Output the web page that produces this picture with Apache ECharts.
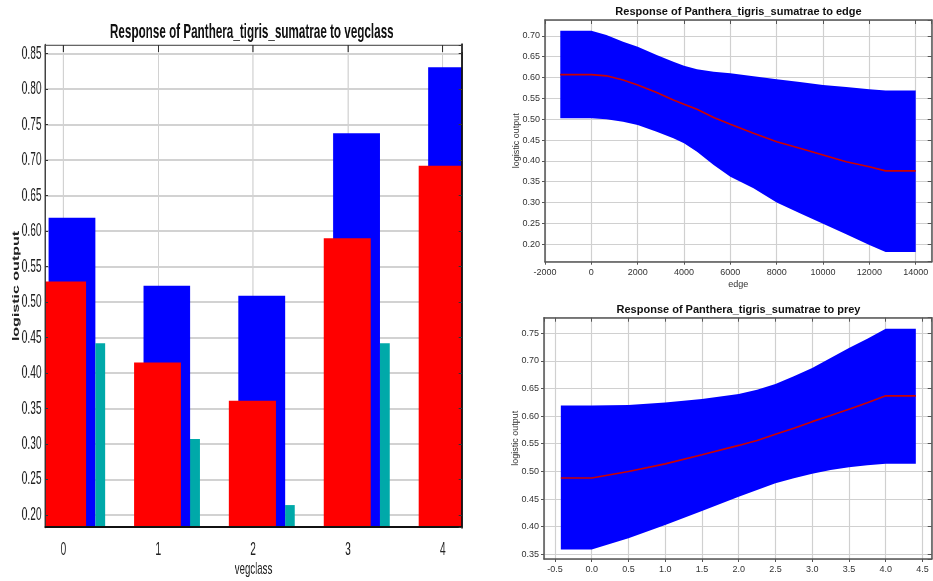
<!DOCTYPE html>
<html>
<head>
<meta charset="utf-8">
<script src="https://cdn.jsdelivr.net/npm/echarts@6/dist/echarts.min.js"></script>
<style>
  html, body { margin: 0; padding: 0; background: #fff; }
  #stage { position: relative; width: 933px; height: 581px; overflow: hidden; background: #fff; }
  /* the vegclass panel is laid out wide and squeezed horizontally */
  #veg { position: absolute; left: 0; top: 0; width: 825px; height: 581px;
         transform: scaleX(0.569697); transform-origin: 0 0; }
  #curves { position: absolute; left: 470px; top: 0; width: 463px; height: 581px; }
</style>
</head>
<body>
<div id="stage">
  <div id="curves"></div>
  <div id="veg"></div>
</div>
<script>
// ---- vegclass (categorical response) ----
const vegCategories = [0, 1, 2, 3, 4];
const vegUpper = [0.619, 0.523, 0.509, 0.738, 0.831];   // blue bars
const vegMean  = [0.529, 0.415, 0.361, 0.590, 0.692];   // red bars
const vegLower = [0.442, 0.307, 0.214, 0.442, null];    // teal bars

// ---- edge (continuous response) ----
const edgeX     = [-1340, 0, 650, 1370, 2000, 2820, 3540, 4000, 4560, 5280, 6000, 7000, 8000, 9000, 10000, 11000, 12000, 12700, 14000];
const edgeUpper = [0.712, 0.712, 0.702, 0.686, 0.674, 0.654, 0.638, 0.628, 0.620, 0.614, 0.610, 0.603, 0.596, 0.589, 0.582, 0.577, 0.572, 0.569, 0.569];
const edgeMean  = [0.607, 0.607, 0.604, 0.594, 0.582, 0.564, 0.546, 0.536, 0.524, 0.504, 0.488, 0.466, 0.446, 0.430, 0.414, 0.398, 0.386, 0.376, 0.376];
const edgeLower = [0.502, 0.502, 0.500, 0.494, 0.486, 0.470, 0.454, 0.442, 0.422, 0.390, 0.362, 0.334, 0.300, 0.274, 0.249, 0.224, 0.198, 0.181, 0.181];

// ---- prey (continuous response) ----
const preyX     = [-0.42, 0, 0.5, 1.0, 1.5, 2.0, 2.25, 2.5, 2.75, 3.0, 3.25, 3.5, 3.75, 4.0, 4.41];
const preyUpper = [0.619, 0.619, 0.620, 0.6245, 0.631, 0.640, 0.6475, 0.658, 0.672, 0.687, 0.705, 0.723, 0.740, 0.758, 0.758];
const preyMean  = [0.488, 0.488, 0.4997, 0.5136, 0.530, 0.547, 0.556, 0.567, 0.578, 0.590, 0.601, 0.6125, 0.624, 0.6366, 0.6366];
const preyLower = [0.3586, 0.3586, 0.379, 0.403, 0.4285, 0.454, 0.4665, 0.4786, 0.4876, 0.4955, 0.5027, 0.5075, 0.5112, 0.5136, 0.5136];

// axis extents and tick steps
const VEG_X_RANGE = [-0.193, 4.203], VEG_X_STEP = 1;
const VEG_Y_RANGE = [0.1831, 0.8623], VEG_Y_STEP = 0.05;
const EDGE_X_RANGE = [-2000, 14690], EDGE_X_STEP = 2000;
const EDGE_Y_RANGE = [0.158, 0.738], EDGE_Y_STEP = 0.05;
const PREY_X_RANGE = [-0.649, 4.626], PREY_X_STEP = 0.5;
const PREY_Y_RANGE = [0.3415, 0.778], PREY_Y_STEP = 0.05;

const FONT = 'Liberation Sans, Arial, Helvetica, sans-serif';

function valueAxis(range, step, extra) {
  return Object.assign({
    type: 'value', min: range[0], max: range[1],
    minInterval: step, maxInterval: step,
    splitNumber: Math.round((range[1] - range[0]) / step)
  }, extra);
}
// an axis that only carries the grid lines (kept beneath the marks)
function gridLinesAxis(range, step, pos, gridIndex, color, width) {
  return valueAxis(range, step, {
    gridIndex, position: pos, z: 0,
    axisLine: { show: false }, axisTick: { show: false }, axisLabel: { show: false },
    splitLine: { show: true, lineStyle: { color, width } }
  });
}
// a frame side with ticks, drawn above the marks
function frameAxis(range, step, pos, gridIndex, line, tick, label, name) {
  const ax = valueAxis(range, step, {
    gridIndex, position: pos, z: 5,
    axisLine: { show: true, onZero: false, lineStyle: line },
    axisTick: tick,
    axisLabel: label || { show: false },
    splitLine: { show: false }
  });
  if (name) Object.assign(ax, { nameMoveOverlap: false }, name);
  return ax;
}

// ---------- vegclass panel ----------
function barRenderer(x0off, x1off, color) {
  return function (params, api) {
    const cat = api.value(0), val = api.value(1);
    const a = api.coord([cat + x0off, val]);
    const b = api.coord([cat + x1off, VEG_Y_RANGE[0]]);
    const cs = params.coordSys;
    const rect = echarts.graphic.clipRectByRect(
      { x: a[0], y: a[1], width: b[0] - a[0], height: b[1] - a[1] },
      { x: cs.x, y: cs.y, width: cs.width, height: cs.height });
    if (!rect) return;
    return { type: 'rect', shape: rect, style: { fill: color } };
  };
}
function pairs(xs, ys) {
  const out = [];
  xs.forEach((x, i) => { if (ys[i] != null) out.push([x, ys[i]]); });
  return out;
}

const vegChart = echarts.init(document.getElementById('veg'), null, { renderer: 'canvas' });
vegChart.setOption({
  animation: false,
  backgroundColor: 'transparent',
  title: {
    text: 'Response of Panthera_tigris_sumatrae to vegclass',
    left: 437, top: 17, textAlign: 'center',
    textStyle: { fontFamily: FONT, fontSize: 20.5, fontWeight: 'bold', color: '#111' }
  },
  grid: { left: 79, top: 45, width: 732, height: 482, outerBoundsMode: 'none', containLabel: false },
  xAxis: [
    gridLinesAxis(VEG_X_RANGE, VEG_X_STEP, 'bottom', 0, '#d2d2d2', 2),
    frameAxis(VEG_X_RANGE, VEG_X_STEP, 'bottom', 0, { color: '#111', width: 2 }, { show: false },
      { show: true, margin: 14, fontSize: 18, color: '#222', fontFamily: FONT,
        showMinLabel: false, showMaxLabel: false, formatter: v => String(v) },
      { name: 'vegclass', nameLocation: 'middle', nameGap: 34,
        nameTextStyle: { fontFamily: FONT, fontSize: 17, color: '#222' } }),
    frameAxis(VEG_X_RANGE, VEG_X_STEP, 'top', 0, { color: '#666', width: 1 },
      { show: true, inside: true, length: 7, lineStyle: { color: '#333', width: 2 } })
  ],
  yAxis: [
    gridLinesAxis(VEG_Y_RANGE, VEG_Y_STEP, 'left', 0, '#d2d2d2', 2),
    frameAxis(VEG_Y_RANGE, VEG_Y_STEP, 'left', 0, { color: '#333', width: 2.5 },
      { show: true, inside: true, length: 5, lineStyle: { color: '#333', width: 1 } },
      { show: true, margin: 6, fontSize: 18, color: '#222', fontFamily: FONT,
        showMinLabel: false, showMaxLabel: false, formatter: v => v.toFixed(2) },
      { name: 'logistic output', nameLocation: 'middle', nameGap: 42,
        nameTextStyle: { fontFamily: FONT, fontSize: 16, fontWeight: 'bold', color: '#222' } }),
    frameAxis(VEG_Y_RANGE, VEG_Y_STEP, 'right', 0, { color: '#111', width: 3.5 },
      { show: true, inside: true, length: 6, lineStyle: { color: '#333', width: 1 } })
  ],
  series: [
    { type: 'custom', name: 'upper', xAxisIndex: 0, yAxisIndex: 0, encode: { x: 0, y: 1 },
      renderItem: barRenderer(-0.155, 0.338, '#0000ff'), data: pairs(vegCategories, vegUpper) },
    { type: 'custom', name: 'mean', xAxisIndex: 0, yAxisIndex: 0, encode: { x: 0, y: 1 },
      renderItem: barRenderer(-0.255, 0.240, '#ff0000'), data: pairs(vegCategories, vegMean) },
    { type: 'custom', name: 'lower', xAxisIndex: 0, yAxisIndex: 0, encode: { x: 0, y: 1 },
      renderItem: barRenderer(0.338, 0.440, '#00a9a9'), data: pairs(vegCategories, vegLower) }
  ]
});

// ---------- edge and prey panels ----------
function bandRenderer(xs, lo, hi, color) {
  return function (params, api) {
    if (params.dataIndex !== 0) return;
    const pts = [];
    for (let i = 0; i < xs.length; i++) pts.push(api.coord([xs[i], hi[i]]));
    for (let i = xs.length - 1; i >= 0; i--) pts.push(api.coord([xs[i], lo[i]]));
    return { type: 'polygon', shape: { points: pts }, style: { fill: color } };
  };
}

const smallLabel = { fontFamily: FONT, fontSize: 9, color: '#333' };
const frameLine = { color: '#555', width: 1.5 };
const outTick = { show: true, inside: false, length: 3, lineStyle: { color: '#555', width: 1 } };
const inTick = { show: true, inside: true, length: 4, lineStyle: { color: '#555', width: 1 } };
const smallTitle = { fontFamily: FONT, fontSize: 11, fontWeight: 'bold', color: '#111' };

const curvesChart = echarts.init(document.getElementById('curves'), null, { renderer: 'canvas' });
curvesChart.setOption({
  animation: false,
  backgroundColor: 'transparent',
  title: [
    { text: 'Response of Panthera_tigris_sumatrae to edge', left: 263.5, top: 1.5, textAlign: 'center',
      textStyle: smallTitle },
    { text: 'Response of Panthera_tigris_sumatrae to prey', left: 263.5, top: 299.5, textAlign: 'center',
      textStyle: smallTitle }
  ],
  grid: [
    { left: 75, top: 20, width: 386.7, height: 241.7, outerBoundsMode: 'none', containLabel: false },
    { left: 74, top: 317.7, width: 387.7, height: 241.3, outerBoundsMode: 'none', containLabel: false }
  ],
  xAxis: [
    gridLinesAxis(EDGE_X_RANGE, EDGE_X_STEP, 'bottom', 0, '#d0d0d0', 1.2),
    frameAxis(EDGE_X_RANGE, EDGE_X_STEP, 'bottom', 0, frameLine, outTick,
      Object.assign({ show: true, margin: 6, showMaxLabel: false, formatter: v => String(v) }, smallLabel),
      { name: 'edge', nameLocation: 'middle', nameGap: 18, nameTextStyle: smallLabel }),
    frameAxis(EDGE_X_RANGE, EDGE_X_STEP, 'top', 0, frameLine, inTick),

    gridLinesAxis(PREY_X_RANGE, PREY_X_STEP, 'bottom', 1, '#d0d0d0', 1.2),
    frameAxis(PREY_X_RANGE, PREY_X_STEP, 'bottom', 1, frameLine, outTick,
      Object.assign({ show: true, margin: 6, showMinLabel: false, showMaxLabel: false,
        formatter: v => v.toFixed(1) }, smallLabel)),
    frameAxis(PREY_X_RANGE, PREY_X_STEP, 'top', 1, frameLine, inTick)
  ],
  yAxis: [
    gridLinesAxis(EDGE_Y_RANGE, EDGE_Y_STEP, 'left', 0, '#d0d0d0', 1.2),
    frameAxis(EDGE_Y_RANGE, EDGE_Y_STEP, 'left', 0, frameLine, outTick,
      Object.assign({ show: true, margin: 5, showMinLabel: false, showMaxLabel: false,
        formatter: v => v.toFixed(2) }, smallLabel),
      { name: 'logistic output', nameLocation: 'middle', nameGap: 24, nameTextStyle: smallLabel }),
    frameAxis(EDGE_Y_RANGE, EDGE_Y_STEP, 'right', 0, frameLine, inTick),

    gridLinesAxis(PREY_Y_RANGE, PREY_Y_STEP, 'left', 1, '#d0d0d0', 1.2),
    frameAxis(PREY_Y_RANGE, PREY_Y_STEP, 'left', 1, frameLine, outTick,
      Object.assign({ show: true, margin: 5, showMinLabel: false, showMaxLabel: false,
        formatter: v => v.toFixed(2) }, smallLabel),
      { name: 'logistic output', nameLocation: 'middle', nameGap: 24, nameTextStyle: smallLabel }),
    frameAxis(PREY_Y_RANGE, PREY_Y_STEP, 'right', 1, frameLine, inTick)
  ],
  series: [
    { type: 'custom', name: 'edge band', xAxisIndex: 0, yAxisIndex: 0, encode: { x: 0, y: 1 },
      renderItem: bandRenderer(edgeX, edgeLower, edgeUpper, '#0000ff'), data: pairs(edgeX, edgeUpper) },
    { type: 'line', name: 'edge mean', xAxisIndex: 0, yAxisIndex: 0, data: pairs(edgeX, edgeMean),
      showSymbol: false, z: 3, lineStyle: { color: '#cc0000', width: 1.6 } },
    { type: 'custom', name: 'prey band', xAxisIndex: 3, yAxisIndex: 3, encode: { x: 0, y: 1 },
      renderItem: bandRenderer(preyX, preyLower, preyUpper, '#0000ff'), data: pairs(preyX, preyUpper) },
    { type: 'line', name: 'prey mean', xAxisIndex: 3, yAxisIndex: 3, data: pairs(preyX, preyMean),
      showSymbol: false, z: 3, lineStyle: { color: '#cc0000', width: 1.6 } }
  ]
});
</script>
</body>
</html>
